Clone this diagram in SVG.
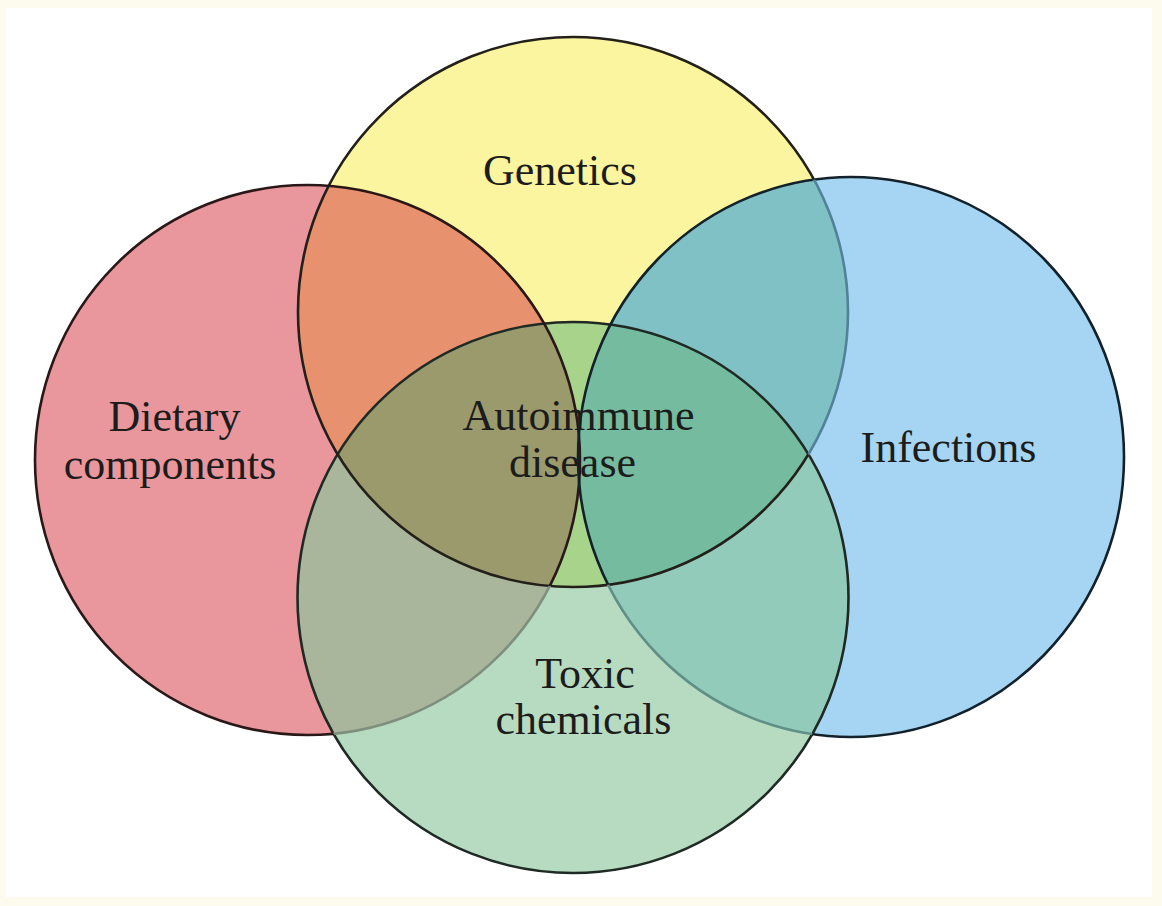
<svg xmlns="http://www.w3.org/2000/svg" xmlns:xlink="http://www.w3.org/1999/xlink" width="1162" height="906" viewBox="0 0 1162 906">
<style>
.lbl{font-family:"Liberation Serif","Times New Roman",serif;font-size:44px;fill:#1c1c1c;text-anchor:middle}
.ol{fill:none;stroke-width:2.6}
</style>
<defs>
<ellipse id="eP" cx="307.5" cy="460" rx="272.5" ry="275"/>
<ellipse id="eY" cx="573" cy="312" rx="275" ry="275"/>
<ellipse id="eB" cx="851" cy="457" rx="273" ry="280"/>
<ellipse id="eG" cx="573" cy="597.5" rx="275.5" ry="275.5"/>
<clipPath id="cP"><use xlink:href="#eP"/></clipPath>
<clipPath id="cY"><use xlink:href="#eY"/></clipPath>
<clipPath id="cB"><use xlink:href="#eB"/></clipPath>
<clipPath id="cG"><use xlink:href="#eG"/></clipPath>
<clipPath id="cPY"><use xlink:href="#eY" clip-path="url(#cP)"/></clipPath>
<clipPath id="cYB"><use xlink:href="#eY" clip-path="url(#cB)"/></clipPath>
<mask id="mGonly" maskUnits="userSpaceOnUse" x="0" y="0" width="1162" height="906">
<use xlink:href="#eG" fill="#fff"/><use xlink:href="#eY" fill="#000"/>
</mask>
<mask id="mNotGonly" maskUnits="userSpaceOnUse" x="0" y="0" width="1162" height="906">
<rect width="1162" height="906" fill="#fff"/><use xlink:href="#eG" fill="#000"/><use xlink:href="#eY" fill="#fff"/>
</mask>
<mask id="mBnotG" maskUnits="userSpaceOnUse" x="0" y="0" width="1162" height="906">
<use xlink:href="#eB" fill="#fff"/><use xlink:href="#eG" fill="#000"/>
</mask>
<mask id="mNotBnotG" maskUnits="userSpaceOnUse" x="0" y="0" width="1162" height="906">
<rect width="1162" height="906" fill="#fff"/><use xlink:href="#eB" fill="#000"/><use xlink:href="#eG" fill="#fff"/>
</mask>
</defs>
<rect width="1162" height="906" fill="#fdfbee"/>
<rect x="6" y="8" width="1146" height="889" fill="#ffffff"/>

<g id="dietary">
<use xlink:href="#eP" fill="#e9969d"/>
<text class="lbl" x="174.5" y="431">Dietary</text>
<text class="lbl" x="170" y="478.5">components</text>
</g>
<g id="genetics">
<use xlink:href="#eY" fill="#fcf59f"/>
<text class="lbl" x="560" y="185">Genetics</text>
</g>
<g id="infections">
<use xlink:href="#eB" fill="#a5d5f3"/>
<text class="lbl" x="948.5" y="462">Infections</text>
</g>
<g id="toxic">
<use xlink:href="#eG" fill="#b6dbc1"/>
<text class="lbl" x="585" y="688">Toxic</text>
<text class="lbl" x="583.5" y="734">chemicals</text>
</g>

<g id="overlaps">
<use xlink:href="#eY" fill="#e8916f" clip-path="url(#cP)"/>
<use xlink:href="#eY" fill="#7fc1c4" clip-path="url(#cB)"/>
<use xlink:href="#eG" fill="#a9b69b" clip-path="url(#cP)"/>
<use xlink:href="#eG" fill="#93cbbb" clip-path="url(#cB)"/>
<use xlink:href="#eG" fill="#a7d38b" clip-path="url(#cY)"/>
<use xlink:href="#eG" fill="#9b9a6d" clip-path="url(#cPY)"/>
<use xlink:href="#eG" fill="#75bb9f" clip-path="url(#cYB)"/>
</g>

<g id="outlines">
<use xlink:href="#eG" class="ol" stroke="#1f2a24"/>
<use xlink:href="#eY" class="ol" stroke="#222018" mask="url(#mNotBnotG)"/>
<use xlink:href="#eP" class="ol" stroke="#2a1818" mask="url(#mNotGonly)"/>
<use xlink:href="#eB" class="ol" stroke="#13212b" mask="url(#mNotGonly)"/>
<use xlink:href="#eP" class="ol" stroke="#7f8f7e" mask="url(#mGonly)"/>
<use xlink:href="#eB" class="ol" stroke="#5f8f86" mask="url(#mGonly)"/>
<use xlink:href="#eY" class="ol" stroke="#52819a" mask="url(#mBnotG)"/>
</g>

<g id="autoimmune">
<text class="lbl" x="578.5" y="430">Autoimmune</text>
<text class="lbl" x="572.5" y="477">disease</text>
</g>
</svg>
